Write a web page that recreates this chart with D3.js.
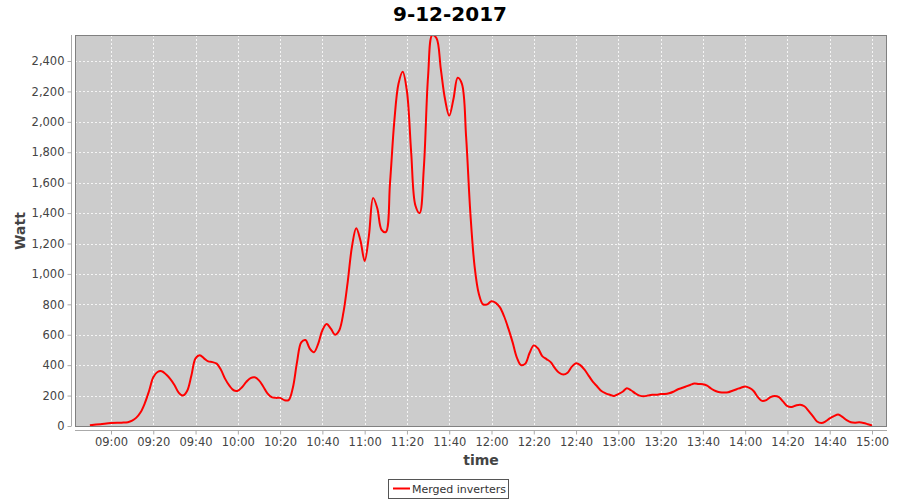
<!DOCTYPE html>
<html>
<head>
<meta charset="utf-8">
<script src="https://cdn.jsdelivr.net/npm/d3@7"></script>
<style>
body { margin: 0; background: #fff; }
text { font-family: "DejaVu Sans", sans-serif; }
</style>
</head>
<body>
<div id="chart"></div>
<script>
var width = 900,
height = 500;

// time in minutes since midnight, values in Watt
var times = [530,535,540,545,548,550,552,554,556,558,560,562,564,566,568,570,572,574,576,578,580,582,584,586,588,590,592,594,596,598,600,602,604,606,608,610,612,614,616,618,620,622,624,626,628,630,632,634,636,638,640,642,644,646,648,650,652,654,656,658,660,662,664,666,668,670,672,674,676,678,680,682,684,686,688,690,692,694,696,698,700,702,704,706,708,710,712,714,716,718,720,722,724,726,728,730,732,734,736,738,740,742,744,746,748,750,752,754,756,758,760,762,764,766,768,770,772,774,776,778,780,782,784,786,788,790,792,794,796,798,800,802,804,806,808,810,812,814,816,818,820,822,824,826,828,830,832,834,836,838,840,842,844,846,848,850,852,854,856,858,860,862,864,866,868,870,872,874,876,878,880,882,884,886,888,890,892,894,896,898,900];
var watts = [5,12,20,22,25,35,55,90,150,230,320,355,360,340,310,270,220,200,230,330,445,465,445,425,420,410,370,310,265,235,232,255,290,315,320,300,260,215,190,185,185,170,170,250,420,550,565,510,485,540,630,670,640,600,630,750,950,1180,1300,1220,1085,1250,1500,1430,1290,1275,1600,2000,2250,2330,2200,1800,1450,1400,1700,2300,2570,2550,2350,2150,2040,2150,2290,2250,1900,1400,1050,870,800,800,820,810,780,720,640,550,450,400,410,480,530,510,460,440,420,380,350,338,350,390,412,400,370,330,290,260,230,215,205,198,210,225,248,235,215,200,195,200,205,205,210,210,215,225,240,250,260,270,280,276,275,265,245,230,222,220,222,232,242,252,260,250,230,190,165,170,190,198,190,160,130,125,135,140,130,100,65,30,20,30,50,65,75,60,38,25,22,24,20,12,3];

var yTicks = [0,200,400,600,800,1000,1200,1400,1600,1800,2000,2200,2400];
var xTicks = [540,560,580,600,620,640,660,680,700,720,740,760,780,800,820,840,860,880,900];
var xTickLabels = ["09:00","09:20","09:40","10:00","10:20","10:40","11:00","11:20","11:40","12:00","12:20","12:40","13:00","13:20","13:40","14:00","14:20","14:40","15:00"];

var plot = {left: 75, top: 35, right: 887, bottom: 426};

var svg = d3.select('#chart').append('svg')
.attr('width', width)
.attr('height', height);

// scales
var scaleX = d3.scaleLinear().domain([540, 900]).range([111, 872]);
var scaleY = d3.scaleLinear().domain([0, 2400]).range([plot.bottom, 61]);

// plot background
svg.append('rect')
.attr('x', plot.left).attr('y', plot.top)
.attr('width', plot.right-plot.left).attr('height', plot.bottom-plot.top)
.attr('fill', '#cccccc');

// gridlines
var grid = svg.append('g');
grid.selectAll('.gx').data(xTicks).enter().append('line')
.attr('x1', d => Math.round(scaleX(d))+0.5).attr('x2', d => Math.round(scaleX(d))+0.5)
.attr('y1', plot.top).attr('y2', plot.bottom)
.attr('stroke', '#ffffff').attr('stroke-width', 0.8).attr('stroke-dasharray', '2,2');
grid.selectAll('.gy').data(yTicks).enter().append('line')
.attr('y1', d => Math.round(scaleY(d))+0.5).attr('y2', d => Math.round(scaleY(d))+0.5)
.attr('x1', plot.left).attr('x2', plot.right)
.attr('stroke', '#ffffff').attr('stroke-width', 0.8).attr('stroke-dasharray', '2,2');

// data line
var data = times.map((t, i) => ({x: t, y: watts[i]}));
var lineFunc = d3.line()
.x(d => scaleX(d.x))
.y(d => scaleY(d.y))
.curve(d3.curveCatmullRom.alpha(0.5));

svg.append('clipPath').attr('id', 'clip').append('rect')
.attr('x', plot.left).attr('y', plot.top)
.attr('width', plot.right-plot.left).attr('height', plot.bottom-plot.top);

svg.append('path')
.datum(data)
.attr('clip-path', 'url(#clip)')
.attr('fill', 'none')
.attr('stroke', '#ff0000')
.attr('stroke-width', 2)
.attr('d', lineFunc);

// plot border
svg.append('rect')
.attr('x', plot.left+0.5).attr('y', plot.top+0.5)
.attr('width', plot.right-plot.left-1).attr('height', plot.bottom-plot.top)
.attr('fill', 'none').attr('stroke', '#808080');

// axes
var axisY = d3.axisLeft(scaleY).tickValues(yTicks).tickSize(4).tickPadding(3)
.tickFormat(d3.format(','));
var gy = svg.append('g').attr('transform', 'translate(71.5,0)').call(axisY);
gy.select('.domain').attr('d', 'M0,' + plot.top + 'V' + plot.bottom);

var axisX = d3.axisBottom(scaleX).tickValues(xTicks).tickSize(4).tickPadding(3)
.tickFormat((d, i) => xTickLabels[i]);
var gx = svg.append('g').attr('transform', 'translate(0,430.5)').call(axisX);
gx.select('.domain').attr('d', 'M' + plot.left + ',0H' + plot.right);

svg.selectAll('.domain').attr('stroke', '#aaaaaa');
svg.selectAll('.tick line').attr('stroke', '#aaaaaa');
svg.selectAll('.tick text').attr('fill', '#444444')
.style('font-family', '"DejaVu Sans", sans-serif').style('font-size', '11.5px');

// title and axis labels
svg.append('text')
.attr('x', 450).attr('y', 21)
.attr('text-anchor', 'middle')
.attr('font-size', '20px').attr('font-weight', 'bold')
.text('9-12-2017');

svg.append('text')
.attr('x', 481).attr('y', 465)
.attr('text-anchor', 'middle')
.attr('font-size', '14px').attr('font-weight', 'bold').attr('fill', '#444444')
.text('time');

svg.append('text')
.attr('transform', 'translate(25,231) rotate(-90)')
.attr('text-anchor', 'middle')
.attr('font-size', '14px').attr('font-weight', 'bold').attr('fill', '#444444')
.text('Watt');

// legend
var legend = svg.append('g');
legend.append('rect')
.attr('x', 388.5).attr('y', 479.5).attr('width', 120).attr('height', 19)
.attr('fill', '#ffffff').attr('stroke', '#555555');
legend.append('line')
.attr('x1', 393).attr('x2', 410).attr('y1', 488.5).attr('y2', 488.5)
.attr('stroke', '#ff0000').attr('stroke-width', 2);
legend.append('text')
.attr('x', 412).attr('y', 493)
.attr('font-size', '11px').attr('fill', '#333333')
.text('Merged inverters');
</script>
</body>
</html>
